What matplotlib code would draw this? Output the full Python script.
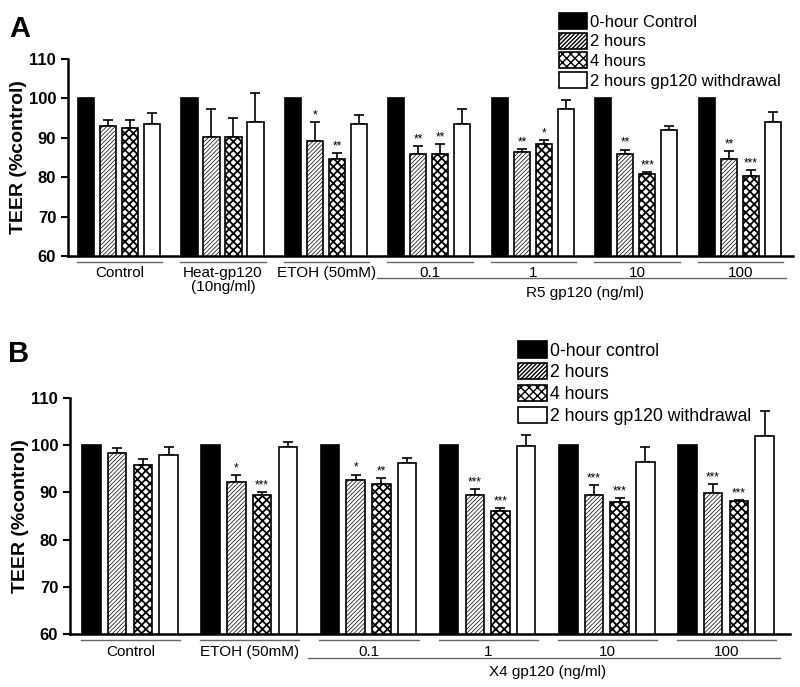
import matplotlib
matplotlib.use("Agg")
import matplotlib.pyplot as plt
import numpy as np

plt.rcParams['font.family'] = ['Liberation Sans', 'DejaVu Sans']

# ---- panel A data (R5 gp120) ----
groupsA = ["Control", "Heat-gp120\n(10ng/ml)", "ETOH (50mM)", "0.1", "1", "10", "100"]
h2A = [93.0, 90.2, 89.1, 86.0, 86.3, 85.9, 84.6]
h2A_err = [1.6, 7.0, 4.9, 1.9, 0.9, 1.1, 2.0]
h4A = [92.4, 90.2, 84.5, 86.0, 88.5, 80.8, 80.4]
h4A_err = [2.2, 4.9, 1.7, 2.3, 1.0, 0.4, 1.3]
wdA = [93.4, 94.0, 93.5, 93.4, 97.2, 92.1, 94.1]
wdA_err = [2.9, 7.3, 2.2, 4.0, 2.4, 1.0, 2.5]
h2A_sig = ["", "", "*", "**", "**", "**", "**"]
h4A_sig = ["", "", "**", "**", "*", "***", "***"]
legendA = ["0-hour Control", "2 hours", "4 hours", "2 hours gp120 withdrawal"]

# ---- panel B data (X4 gp120) ----
groupsB = ["Control", "ETOH (50mM)", "0.1", "1", "10", "100"]
h2B = [98.4, 92.2, 92.7, 89.4, 89.5, 89.8]
h2B_err = [1.0, 1.5, 1.1, 1.3, 2.1, 2.0]
h4B = [95.9, 89.5, 91.7, 86.0, 87.9, 88.1]
h4B_err = [1.2, 0.6, 1.3, 0.7, 0.9, 0.3]
wdB = [97.9, 99.6, 96.3, 99.8, 96.5, 101.9]
wdB_err = [1.8, 1.1, 1.0, 2.4, 3.2, 5.4]
h2B_sig = ["", "*", "*", "***", "***", "***"]
h4B_sig = ["", "***", "**", "***", "***", "***"]
legendB = ["0-hour control", "2 hours", "4 hours", "2 hours gp120 withdrawal"]


def panel(ax, groups, h2, h2e, h4, h4e, wd, wde, s2, s4, step, xlim, first_dose, dose_label,
          yl):
    n = len(groups)
    x = np.arange(n)
    w = 0.155
    ctrl = [100] * n
    series = [(ctrl, None, dict(color="black", edgecolor="black"), 1.0),
              (h2, h2e, dict(color="white", edgecolor="black", hatch="////////"), 0.5),
              (h4, h4e, dict(color="white", edgecolor="black", hatch="xxxx"), 1.3),
              (wd, wde, dict(color="white", edgecolor="black"), 1.0)]
    handles = []
    for k, (vals, err, st, hlw) in enumerate(series):
        xs = x + k * step
        b = ax.bar(xs, vals, w, linewidth=1.2, zorder=2, **st)
        for p in b.patches:
            p.set_hatch_linewidth(hlw)
        handles.append(b)
        if err is not None:
            ax.errorbar(xs, vals, yerr=[np.zeros(n), err], fmt="none", ecolor="black",
                        elinewidth=1.2, capsize=3.5, capthick=1.2, zorder=1)
    for sigs, vals, err, k in [(s2, h2, h2e, 1), (s4, h4, h4e, 2)]:
        for i in range(n):
            if sigs[i]:
                ax.text(x[i] + k * step, vals[i] + err[i] + 0.2, sigs[i], ha="center",
                        va="bottom", fontsize=8.5)

    ax.set_ylim(60, 110)
    ax.set_xlim(*xlim)
    ax.set_yticks([60, 70, 80, 90, 100, 110])
    ax.tick_params(axis="y", direction="out", length=5, width=1.5, labelsize=12)
    for t in ax.get_yticklabels():
        t.set_fontweight("bold")
    ax.set_xticks([])
    for s in ["top", "right"]:
        ax.spines[s].set_visible(False)
    for s in ["left", "bottom"]:
        ax.spines[s].set_linewidth(1.8)
    ax.set_ylabel("TEER (%control)", fontsize=14, fontweight="bold", labelpad=1)

    tr = ax.get_xaxis_transform()
    left = x - w / 2 - 0.01
    right = x + 3 * step + w / 2 + 0.02
    for i in range(n):
        ax.plot([left[i], right[i]], [yl[0], yl[0]], color="#666666", lw=1.0,
                transform=tr, clip_on=False)
        ax.text((left[i] + right[i]) / 2, yl[1], groups[i], ha="center", va="top",
                fontsize=11, transform=tr, linespacing=1.05)
    ax.plot([left[first_dose] - 0.1, right[-1] + 0.03], [yl[2], yl[2]], color="#666666",
            lw=1.0, transform=tr, clip_on=False)
    ax.text((left[first_dose] + right[-1]) / 2, yl[3], dose_label, ha="center",
            va="center", fontsize=11, transform=tr)
    return handles


fig = plt.figure(figsize=(8, 6.87), dpi=100)

axA = fig.add_axes([0.085, 0.6274, 0.906, 0.2867])
hA = panel(axA, groupsA, h2A, h2A_err, h4A, h4A_err, wdA, wdA_err, h2A_sig, h4A_sig,
           0.2126, (-0.174, 6.83), 3, "R5 gp120 (ng/ml)",
           yl=(-0.03, -0.05, -0.11, -0.19))
fig.legend(hA, legendA, loc="upper left", bbox_to_anchor=(0.688, 0.993), frameon=False,
           fontsize=12, handlelength=1.7, handleheight=1.1, labelspacing=0.18,
           handletextpad=0.2, borderpad=0)

axB = fig.add_axes([0.0875, 0.0771, 0.9, 0.3435])
hB = panel(axB, groupsB, h2B, h2B_err, h4B, h4B_err, wdB, wdB_err, h2B_sig, h4B_sig,
           0.2156, (-0.18, 5.86), 2, "X4 gp120 (ng/ml)",
           yl=(-0.025, -0.045, -0.10, -0.16))
fig.legend(hB, legendB, loc="upper left", bbox_to_anchor=(0.636, 0.516), frameon=False,
           fontsize=12.7, handlelength=1.65, handleheight=1.05, labelspacing=0.2,
           handletextpad=0.2, borderpad=0)

fig.text(0.012, 0.978, "A", fontsize=21, fontweight="bold", va="top")
fig.text(0.01, 0.505, "B", fontsize=21, fontweight="bold", va="top")

fig.savefig("out.png", dpi=100)
